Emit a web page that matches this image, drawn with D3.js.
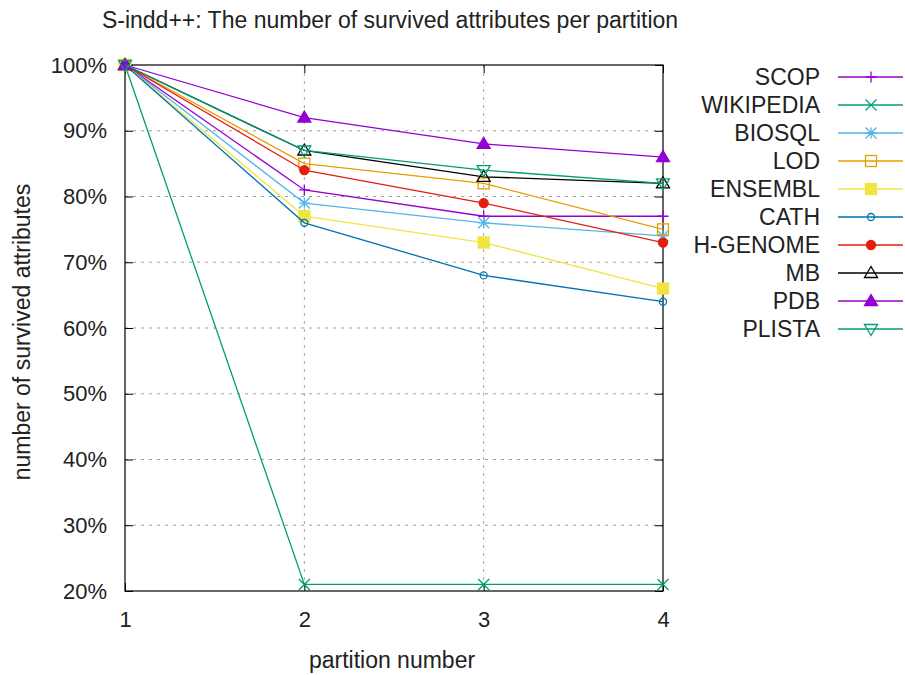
<!DOCTYPE html>
<html lang="en">
<head>
<meta charset="UTF-8">
<title>S-indd++ survived attributes</title>
<script src="https://d3js.org/d3.v7.min.js"></script>
<style>
  body { margin: 0; background: #fff; }
  text { font-family: "Liberation Sans", Arial, sans-serif; fill: #222; }
</style>
</head>
<body>
<svg width="905" height="675"></svg>
<script>
const partitions = [1, 2, 3, 4];
const yTicks = [20, 30, 40, 50, 60, 70, 80, 90, 100];
const names = ["SCOP", "WIKIPEDIA", "BIOSQL", "LOD", "ENSEMBL", "CATH", "H-GENOME", "MB", "PDB", "PLISTA"];
const scop      = [100, 81, 77, 77];
const wikipedia = [100, 21, 21, 21];
const biosql    = [100, 79, 76, 74];
const lod       = [100, 85, 82, 75];
const ensembl   = [100, 77, 73, 66];
const cath      = [100, 76, 68, 64];
const hgenome   = [100, 84, 79, 73];
const mb        = [100, 87, 83, 82];
const pdb       = [100, 92, 88, 86];
const plista    = [100, 87, 84, 82];
const values = [scop, wikipedia, biosql, lod, ensembl, cath, hgenome, mb, pdb, plista];
const colors = ["#9400d3", "#009e73", "#56b4e9", "#e69f00", "#f0e442", "#0072b2", "#e51e10", "#000000", "#9400d3", "#009e73"];
const markers = ["plus", "cross", "star", "box", "fbox", "circle", "fcircle", "tri", "ftri", "itri"];

const svg = d3.select("svg");
const pl = 125, pr = 663, pt = 65, pb = 591;

const x = d3.scaleLinear().domain([1, 4]).range([pl, pr]);
const y = d3.scaleLinear().domain([20, 100]).range([pb, pt]);

// grid
svg.append("g").selectAll("line").data(yTicks.slice(1, -1)).join("line")
  .attr("x1", pl).attr("x2", pr)
  .attr("y1", d => y(d)).attr("y2", d => y(d))
  .attr("stroke", "#a0a0a0").attr("stroke-dasharray", "3,5");
svg.append("g").selectAll("line").data(partitions.slice(1, -1)).join("line")
  .attr("x1", d => x(d)).attr("x2", d => x(d))
  .attr("y1", pt).attr("y2", pb)
  .attr("stroke", "#a0a0a0").attr("stroke-dasharray", "3,5");

// axes with inward ticks, mirrored
const fmt = d => d + "%";
const yAxisL = svg.append("g").attr("transform", `translate(${pl},0)`)
  .call(d3.axisLeft(y).tickValues(yTicks).tickFormat(fmt).tickSize(-8).tickPadding(18));
const yAxisR = svg.append("g").attr("transform", `translate(${pr},0)`)
  .call(d3.axisRight(y).tickValues(yTicks).tickFormat("").tickSize(-8));
const xAxisB = svg.append("g").attr("transform", `translate(0,${pb})`)
  .call(d3.axisBottom(x).tickValues(partitions).tickFormat(d3.format("d")).tickSize(-8).tickPadding(20));
const xAxisT = svg.append("g").attr("transform", `translate(0,${pt})`)
  .call(d3.axisTop(x).tickValues(partitions).tickFormat("").tickSize(-8));
[yAxisL, yAxisR, xAxisB, xAxisT].forEach(g => {
  g.select(".domain").remove();
  g.selectAll(".tick line").attr("stroke", "#000");
  g.selectAll("text").attr("font-size", 22).attr("fill", "#222")
    .attr("font-family", "Liberation Sans, Arial, sans-serif");
});

svg.append("rect").attr("x", pl).attr("y", pt)
  .attr("width", pr - pl).attr("height", pb - pt)
  .attr("fill", "none").attr("stroke", "#000").attr("stroke-width", 1.2);

function marker(g, type, color) {
  const s = 5.5;
  if (type === "plus") {
    g.append("path").attr("d", `M${-s},0H${s}M0,${-s}V${s}`).attr("stroke", color).attr("stroke-width", 1.3);
  } else if (type === "cross") {
    g.append("path").attr("d", `M${-s},${-s}L${s},${s}M${-s},${s}L${s},${-s}`).attr("stroke", color).attr("stroke-width", 1.3);
  } else if (type === "star") {
    g.append("path").attr("d", `M${-s},0H${s}M0,${-s}V${s}M${-s},${-s}L${s},${s}M${-s},${s}L${s},${-s}`).attr("stroke", color).attr("stroke-width", 1.3);
  } else if (type === "box" || type === "fbox") {
    g.append("rect").attr("x", -s).attr("y", -s).attr("width", 2 * s).attr("height", 2 * s)
      .attr("fill", type === "fbox" ? color : "none").attr("stroke", color).attr("stroke-width", 1.3);
  } else if (type === "circle" || type === "fcircle") {
    g.append("circle").attr("r", type === "fcircle" ? 4.5 : 3.5)
      .attr("fill", type === "fcircle" ? color : "none").attr("stroke", color).attr("stroke-width", 1.3);
  } else if (type === "tri" || type === "ftri") {
    g.append("path").attr("d", `M0,${-s - 1}L${s + 1},${s - 1}L${-s - 1},${s - 1}Z`)
      .attr("fill", type === "ftri" ? color : "none").attr("stroke", color).attr("stroke-width", 1.3);
  } else if (type === "itri") {
    g.append("path").attr("d", `M0,${s + 1}L${s + 1},${-s + 1}L${-s - 1},${-s + 1}Z`)
      .attr("fill", "none").attr("stroke", color).attr("stroke-width", 1.3);
  }
}

const line = d3.line().x((d, i) => x(partitions[i])).y(d => y(d));
values.forEach((vals, k) => {
  svg.append("path").attr("d", line(vals)).attr("fill", "none")
    .attr("stroke", colors[k]).attr("stroke-width", 1.3);
  vals.forEach((v, i) => {
    marker(svg.append("g").attr("transform", `translate(${x(partitions[i])},${y(v)})`), markers[k], colors[k]);
  });
});

// legend
const legend = svg.append("g");
names.forEach((n, k) => {
  const ly = 77 + k * 28;
  legend.append("text").attr("x", 820).attr("y", ly).attr("dy", "0.35em")
    .attr("text-anchor", "end").attr("font-size", 23).text(n);
  legend.append("line").attr("x1", 838).attr("x2", 903).attr("y1", ly).attr("y2", ly)
    .attr("stroke", colors[k]).attr("stroke-width", 1.3);
  marker(legend.append("g").attr("transform", `translate(871,${ly})`), markers[k], colors[k]);
});

svg.append("text").attr("x", 390).attr("y", 20).attr("dy", "0.35em")
  .attr("text-anchor", "middle").attr("font-size", 23)
  .text("S-indd++: The number of survived attributes per partition");
svg.append("text").attr("x", 392).attr("y", 660).attr("dy", "0.35em")
  .attr("text-anchor", "middle").attr("font-size", 23).text("partition number");
svg.append("text").attr("transform", "translate(22,332) rotate(-90)").attr("dy", "0.35em")
  .attr("text-anchor", "middle").attr("font-size", 23).text("number of survived attributes");
</script>
</body>
</html>
